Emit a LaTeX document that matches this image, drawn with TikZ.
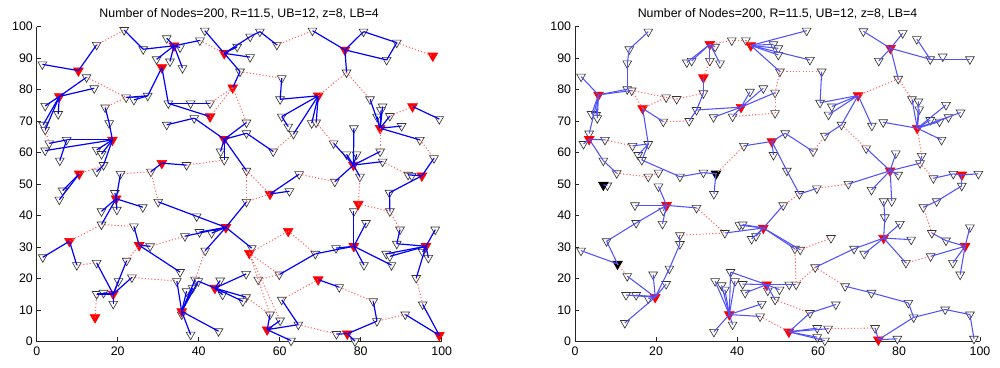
\documentclass[tikz,border=0pt]{standalone}
\usepackage{fontspec}
\setmainfont{Liberation Sans}
\usetikzlibrary{shapes.geometric}
\definecolor{linkblue}{RGB}{80,80,255}

\begin{document}
\begin{tikzpicture}[
  x=0.025cm,y=0.025cm,
  font=\fontsize{8.8pt}{10pt}\selectfont,
  mem/.style={regular polygon,regular polygon sides=3,shape border rotate=180,draw=black!80,fill=white,
    line width=0.45pt,minimum size=7.2pt,inner sep=0pt},
  head/.style={mem,fill=red,draw=red,minimum size=8pt},
  blkhead/.style={mem,fill=black,draw=black,minimum size=8pt},
  bline/.style={blue,line width=0.85pt},
  bthin/.style={linkblue,line width=0.75pt},
  rdot/.style={red!60,line width=0.75pt,dash pattern=on 0.8pt off 1.5pt},
  axis/.style={black!85,line width=0.45pt},
  ticklab/.style={inner sep=0pt},
  plottitle/.style={inner sep=0pt}
]
\useasboundingbox (0,0) rectangle (1000,368);

\begin{scope}[shift={(36.7,26.7)},xscale=4.05,yscale=3.147]
  \draw[axis] (0,100) -- (0,0) -- (100,0);
  \foreach \t in {0,10,...,100} {
    \draw[axis] (0,\t) -- (1,\t);
    \node[ticklab,anchor=east] (lyt\t) at (-0.9,\t) {\t};
  }
  \foreach \t in {0,20,...,100} {
    \draw[axis] (\t,0) -- (\t,1.3);
    \node[ticklab,anchor=north] (lxt\t) at (\t,-1.7) {\t};
  }
  \node[plottitle] (ltitle) at (50,104) {Number of Nodes=200, R=11.5, UB=12, z=8, LB=4};

  \foreach \n/\x/\y in {a1/1.4/88.0,a2/14.8/94.2,a3/21.6/98.9,a4/26.3/92.8,a5/32.1/96.3,a6/35.4/93.4,
    a7/29.6/89.6,a8/32.9/88.9,a9/36.0/86.8,a10/40.3/95.6,a11/41.5/98.7,a12/49.5/93.6,a13/50.2/85.7,
    a14/52.7/90.3,a15/52.7/96.8,a16/55.1/98.4,a17/59.3/94.2,a18/68.1/98.7,a19/80.7/98.4,a20/88.9/94.9,
    a21/86.4/89.4,a22/76.5/85.4,a23/12.3/83.9,a24/14.2/80.4,a25/2.1/74.8,a26/5.3/72.2,a27/1.6/68.8,
    a28/2.1/67.2,a29/3.1/62.9,a30/22.1/77.5,a31/24.0/76.7,a32/27.4/78.0,a33/16.9/74.3,a34/17.9/69.3,
    a35/7.4/64.0,a36/2.1/60.6,a37/5.7/57.4,a38/14.8/60.8,a39/16.0/59.5,a40/16.5/56.0,a41/14.8/53.9,
    a42/32.5/75.6,a43/38.0/75.6,a44/42.8/75.6,a45/38.9/70.9,a46/32.1/68.8,a47/51.8/69.5,a48/51.8/66.1,
    a49/45.4/60.3,a50/46.3/57.6,a51/51.8/54.2,a52/37.0/56.0,a53/28.2/53.9,a54/20.7/53.2,a56/60.5/83.6,
    a57/60.1/76.9,a58/60.5/71.4,a59/62.1/68.2,a60/67.9/69.3,a61/69.0/69.5,a62/63.4/65.9,a63/82.3/76.9,
    a64/85.4/74.6,a65/85.0/73.4,a66/87.2/71.6,a67/90.1/68.4,a68/94.6/64.0,a69/84.0/71.4,a70/99.4/70.6,
    a71/98.1/58.2,a72/84.8/60.3,a73/73.3/62.9,a74/78.3/67.7,a75/76.5/59.4,a76/79.0/59.4,a78/85.4/57.1,
    a79/79.8/52.3,a80/73.6/50.7,a81/91.7/52.9,a82/92.6/52.6,a83/64.8/53.1,a84/58.4/60.3,
    a88/19.3/47.1,a89/16.0/41.3,a90/19.8/41.8,a91/26.2/42.6,a92/16.0/37.1,a93/6.4/47.9,a94/5.6/45.0,
    a95/30.0/44.3,a96/39.5/39.7,a97/51.8/44.3,a98/36.6/33.4,a99/40.2/34.7,a100/43.2/34.4,a101/41.6/28.8,
    a102/1.5/26.7,a103/9.9/24.2,a104/24.0/36.5,a105/28.0/30.2,a106/35.4/22.0,a107/22.2/25.6,
    a108/14.8/24.9,a109/20.2/19.1,a110/23.5/20.3,a111/14.8/15.0,a112/16.5/15.4,a113/18.9/11.9,
    a114/34.6/19.1,a115/37.0/15.9,a116/38.5/16.9,a117/39.1/19.6,a118/39.9/19.1,a119/35.8/8.5,
    a120/38.0/2.1,a121/44.9/3.2,a122/45.3/19.3,a123/45.9/14.8,a124/51.7/21.4,a125/51.7/14.0,
    a126/50.9/12.7,a127/62.4/47.7,a130/78.3/41.3,a131/87.1/47.2,a132/87.2/41.3,a133/81.3/37.6,
    a134/89.7/35.5,a135/73.9/29.6,a136/68.8/27.8,a137/80.8/24.2,a138/87.6/24.2,a139/59.9/21.2,
    a140/54.7/19.6,a141/53.1/29.6,a142/88.9/31.0,a143/86.3/27.8,a144/87.2/27.0,a145/95.3/28.4,
    a146/96.7/26.5,a147/98.4/35.5,a148/93.7/20.1,a149/95.3/11.7,a150/91.0/8.5,a151/84.0/6.4,
    a152/83.1/12.7,a153/74.7/17.2,a154/60.5/13.2,a155/64.6/5.3,a156/57.6/8.5,a157/60.1/6.6,
    a158/62.8/0.2,a159/74.0/2.3,a160/78.6/0.0}
    \node[mem] (\n) at (\x,\y) {};

  \foreach \n/\x/\y in {lh1/10.3/86.0,lh2/5.6/77.8,lh3/33.9/93.9,lh4/30.9/87.0,lh5/46.3/91.5,lh6/48.4/80.6,
    lh7/42.8/71.4,lh8/18.7/64.0,lh9/10.5/53.2,lh10/30.9/56.6,lh11/46.3/64.2,lh12/76.1/92.6,lh13/97.8/90.7,
    lh14/69.5/78.0,lh15/92.8/74.6,lh16/84.8/67.7,lh17/78.2/56.0,lh18/95.1/52.6,lh19/19.6/45.3,lh20/8.1/31.8,
    lh21/25.3/30.5,lh22/46.7/36.2,lh23/18.9/15.0,lh24/14.4/7.6,lh25/35.8/9.5,lh26/44.0/16.9,lh27/52.5/28.0,
    lh28/57.6/46.8,lh29/79.4/43.6,lh30/62.1/35.0,lh31/78.3/30.2,lh32/96.1/30.2,lh33/69.5/19.6,
    lh34/56.9/3.7,lh35/76.7/2.4,lh36/99.4/1.9}
    \node[head] (\n) at (\x,\y) {};

  \foreach \u/\v in {lh1/a1,lh1/a2,a3/a4,a4/lh3,lh3/a5,lh3/a6,lh3/a7,lh3/a8,lh3/a9,lh3/a10,
    lh5/a11,lh5/a12,lh5/a13,a13/lh6,lh5/a14,lh5/a15,a15/a16,a16/a17,
    lh12/a18,lh12/a19,a19/a20,lh12/a21,a21/a20,lh12/a22,
    lh2/a23,lh2/a24,lh2/a25,lh2/a26,lh2/a27,lh2/a28,
    a30/a32,a31/a32,a32/lh4,lh4/a42,a33/a34,a34/lh8,
    lh8/a35,lh8/a36,a35/a37,a35/a29,lh8/a38,lh8/a39,lh8/a40,a40/a41,
    a42/a44,a42/lh7,a46/a45,a45/lh11,lh11/a47,lh11/a48,lh11/a49,lh11/a50,lh11/a51,
    lh10/a52,lh10/a53,lh9/a93,lh9/a94,
    a56/a57,a57/lh14,lh14/a58,lh14/a62,lh14/a60,lh14/a61,a58/a59,
    lh16/a63,lh16/a64,lh16/a65,lh16/a66,lh16/a67,lh16/a68,lh16/a69,
    lh15/a70,a71/lh18,lh18/a81,lh18/a82,lh18/a131,a131/a132,
    lh17/a73,lh17/a74,lh17/a75,lh17/a76,lh17/a72,lh17/a78,lh17/a79,lh17/a80,
    a84/a48,lh28/a127,lh28/a83,
    lh19/a88,lh19/a89,lh19/a90,lh19/a91,lh19/a92,lh19/a54,
    a95/a96,a96/lh22,lh22/a97,lh22/a98,lh22/a99,lh22/a100,lh22/a101,lh22/a141,
    lh20/a102,lh20/a103,a104/lh21,lh21/a105,lh21/a106,a107/lh23,
    lh23/a108,lh23/a109,lh23/a110,lh23/a111,lh23/a112,lh23/a113,
    lh25/a114,lh25/a115,lh25/a116,lh25/a117,lh25/a118,lh25/a119,lh25/a120,lh25/a121,
    lh26/a122,lh26/a123,lh26/a124,lh26/a125,lh26/a126,lh26/a118,
    lh31/a130,lh31/a133,lh31/a135,lh31/a136,lh31/a137,lh31/a138,a136/a139,
    lh32/a142,lh32/a143,lh32/a144,lh32/a145,lh32/a146,lh32/a147,lh32/a148,a134/a142,
    a149/lh36,a150/lh36,a152/a151,a151/lh35,lh35/a159,lh35/a160,
    lh33/a153,a154/a155,a155/lh34,lh34/a156,lh34/a157,lh34/a158}
    \draw[bline] (\u.center) -- (\v.center);

  \foreach \u/\v in {a2/a3,a10/lh5,a17/a18,a20/lh13,a22/lh14,a22/a63,a28/a29,a23/a30,a33/a30,
    a44/lh6,lh7/lh6,lh6/a47,a13/a56,lh9/a40,a53/a54,a52/a50,lh15/a66,a68/a71,lh16/a72,
    a83/a80,a79/lh29,a84/a62,a61/a73,a53/a95,a78/a81,a51/lh28,
    lh20/a92,a103/a108,a92/a104,a107/lh21,a105/a98,a110/a114,a117/a101,lh24/a111,
    a97/lh28,a51/a97,lh29/a132,a132/a134,lh27/lh30,lh30/a136,a139/a140,lh27/a139,lh27/a156,lh27/a157,
    a148/a149,a150/a151,a152/a153,lh33/a154,a155/a159,a156/a125}
    \draw[rdot] (\u.center) -- (\v.center);
\end{scope}

\begin{scope}[shift={(575,26.7)},xscale=4.05,yscale=3.147]
  \draw[axis] (0,100) -- (0,0) -- (100,0);
  \foreach \t in {0,10,...,100} {
    \draw[axis] (0,\t) -- (1,\t);
    \node[ticklab,anchor=east] (ryt\t) at (-0.9,\t) {\t};
  }
  \foreach \t in {0,20,...,100} {
    \draw[axis] (\t,0) -- (\t,1.3);
    \node[ticklab,anchor=north] (rxt\t) at (\t,-1.7) {\t};
  }
  \node[plottitle] (rtitle) at (50,104) {Number of Nodes=200, R=11.5, UB=12, z=8, LB=4};

  \foreach \n/\x/\y in {b1/1.5/84.1,b2/12.9/80.1,b3/14.0/79.7,b4/12.9/88.3,b5/13.4/92.8,b6/18.1/98.4,
    b7/4.1/72.2,b8/5.2/71.9,b9/5.5/70.9,b10/3.5/66.0,b11/2.1/62.7,b12/7.4/64.0,b13/7.0/57.4,b14/10.3/53.4,
    b15/8.0/49.5,b16/14.2/62.1,b17/18.1/62.7,b18/15.6/59.2,b19/16.5/57.6,b20/21.8/69.8,b21/22.5/77.5,
    b22/25.1/77.0,b23/31.7/78.8,b24/30.0/73.5,b25/28.2/70.0,b26/34.2/71.2,b27/38.9/71.4,b28/49.4/72.5,
    b29/49.4/79.0,b30/50.6/85.7,b31/43.2/79.3,b32/46.5/80.4,b33/27.6/88.6,b34/28.8/89.1,b35/33.3/89.1,
    b36/35.8/88.3,b37/34.6/93.6,b38/38.7/95.6,b39/42.2/95.6,b40/49.0/94.4,b41/50.2/93.1,b42/50.2/91.0,
    b43/41.7/62.1,b44/49.0/59.2,b45/51.9/66.1,b46/52.3/54.2,b47/31.7/53.6,b48/25.9/52.3,b49/20.6/53.6,
    b50/18.1/52.3,b51/20.6/49.2,b52/57.2/98.7,b53/58.0/89.4,b54/60.9/85.7,b55/60.5/75.8,b56/63.4/74.6,
    b57/62.6/72.0,b58/65.8/68.8,b59/61.7/65.3,b60/58.8/60.3,b61/73.3/68.5,b62/71.2/98.5,b63/80.9/97.9,
    b64/75.0/89.1,b65/84.4/96.0,b66/87.7/89.6,b67/90.8/90.5,b68/97.5/89.6,b69/79.8/83.4,b70/83.2/76.9,
    b71/84.8/76.2,b72/85.0/73.7,b73/76.1/69.6,b74/91.6/75.1,b75/95.2/72.7,b76/92.2/71.2,b77/90.0/69.8,
    b78/87.7/70.3,b79/90.5/64.0,b80/85.6/58.9,b81/85.2/56.6,b82/88.5/51.8,b83/93.4/53.2,b84/99.6/53.2,
    b85/95.5/49.4,b86/71.9/61.3,b87/79.2/59.7,b88/79.8/52.9,b89/73.2/48.1,b90/67.5/50.0,b91/59.7/48.6,
    b93/14.8/43.2,b94/21.8/41.5,b95/21.6/37.3,b96/30.0/42.4,b97/15.1/37.6,b98/7.8/31.8,b99/1.5/28.8,
    b100/12.9/20.7,b101/12.6/14.7,b102/15.1/14.7,b103/18.1/13.6,b104/19.3/21.2,b105/22.5/18.2,
    b106/23.3/23.1,b107/25.9/30.9,b108/25.9/33.7,b109/12.3/5.8,b110/37.0/34.4,b111/40.6/36.9,
    b112/41.4/37.1,b113/43.6/32.5,b114/44.7/33.4,b115/51.4/43.2,b116/34.6/19.1,b117/36.2/17.8,
    b118/37.0/16.4,b119/38.4/22.0,b120/39.5/19.1,b121/41.4/18.2,b122/34.3/3.0,b123/38.9/5.3,
    b124/46.1/11.9,b125/45.7/7.9,b126/42.0/15.4,b127/47.6/16.1,b128/49.4/13.2,b129/50.5/16.4,
    b130/52.9/18.0,b131/55.4/46.8,b136/76.2/44.5,b137/78.2/44.5,b138/86.0/42.6,b139/89.3/44.5,
    b140/76.5/39.4,b141/80.2/37.3,b142/83.0/32.3,b143/81.7/24.9,b144/68.9/29.4,b145/71.4/27.8,
    b146/63.2/32.8,b147/54.3/29.4,b148/55.6/29.1,b149/59.3/23.5,b150/54.6/18.0,b154/66.7/17.5,
    b155/73.2/15.4,b156/82.3/12.2,b157/83.6/7.6,b158/91.4/10.1,b159/97.5/8.5,b160/98.5/0.8,
    b161/87.8/27.0,b162/88.1/34.4,b163/91.6/32.0,b164/93.3/24.9,b165/97.5/36.2,b166/95.1/21.2,
    b167/58.0/9.0,b168/64.4/11.7,b169/59.8/4.2,b170/62.5/4.0,b171/59.8/1.3,b172/61.7/0.2,
    b173/74.1/4.2,b174/79.6/0.8,b175/34.3/46.8}
    \node[mem] (\n) at (\x,\y) {};

  \foreach \n/\x/\y in {rh1/5.8/78.3,rh2/16.7/74.0,rh3/33.3/94.4,rh4/31.7/83.8,rh5/43.4/94.0,rh6/41.0/74.4,
    rh7/3.5/64.2,rh8/48.6/63.5,rh9/77.9/93.1,rh10/69.9/78.1,rh11/84.5/67.7,rh12/77.8/54.2,rh13/95.5/52.9,
    rh14/22.6/43.2,rh15/19.8/14.0,rh16/46.5/36.0,rh17/47.3/18.0,rh18/38.1/8.5,rh19/52.8/3.0,
    rh20/76.2/32.8,rh21/96.3/30.2,rh22/74.9/0.5}
    \node[head] (\n) at (\x,\y) {};
  \foreach \n/\x/\y in {rk1/7.0/49.7,rk2/34.8/53.2,rk3/10.5/24.6}
    \node[blkhead] (\n) at (\x,\y) {};

  \foreach \u/\v in {rh1/b1,rh1/b2,rh1/b3,b6/b5,b5/b4,b4/b2,rh1/b7,rh1/b8,rh1/b9,rh1/b10,
    rh7/b11,rh7/b12,rh7/b13,b13/b14,rk1/b15,
    rh2/b17,rh2/b20,b17/b16,b17/b18,b17/b19,b19/b48,b48/b47,b47/rk2,rk2/b175,
    b23/rh4,b23/b24,b24/rh6,b26/rh6,b25/b24,rh6/b27,rh6/b31,rh6/b32,rh6/b29,
    rh3/b33,rh3/b34,rh3/b35,rh3/b36,rh3/b37,
    rh5/b40,rh5/b41,rh5/b42,rh5/b30,rh5/b53,rh5/b52,
    rh8/b43,rh8/b44,rh8/b45,rh8/b46,b45/b60,b58/b59,b131/b46,
    rh10/b55,rh10/b56,rh10/b57,rh10/b58,rh10/b61,b54/b55,
    rh9/b62,rh9/b63,rh9/b64,rh9/b66,b66/b68,b65/b66,rh9/b69,
    rh11/b70,rh11/b71,rh11/b72,rh11/b73,rh11/b74,rh11/b75,rh11/b76,rh11/b77,rh11/b78,rh11/b79,
    rh13/b83,rh13/b84,rh13/b85,b82/b83,b139/b85,
    rh12/b86,rh12/b87,rh12/b88,rh12/b81,rh12/b89,rh12/b90,b80/b81,rh12/b137,
    rh14/b93,rh14/b94,rh14/b95,rh14/b96,rh14/b51,rh14/b97,b97/b98,b98/rk3,b99/rk3,
    rh15/b100,rh15/b101,rh15/b102,rh15/b103,rh15/b104,rh15/b105,rh15/b106,b106/b107,b107/b108,rh15/b109,
    rh16/b110,rh16/b111,rh16/b112,rh16/b113,rh16/b114,rh16/b115,rh16/b147,rh16/b148,
    rh18/b116,rh18/b117,rh18/b118,rh18/b119,rh18/b120,rh18/b122,rh18/b123,rh18/b124,rh18/b125,
    rh17/b119,rh17/b121,rh17/b126,rh17/b127,rh17/b128,rh17/b129,rh17/b130,rh17/b150,
    b168/b167,b167/rh19,rh19/b169,rh19/b170,rh19/b171,rh19/b172,
    rh20/b140,b140/b136,rh20/b141,rh20/b142,rh20/b143,rh20/b144,rh20/b145,b144/b149,
    b131/b91,b138/b139,
    rh21/b161,rh21/b163,b162/b163,rh21/b164,rh21/b165,rh21/b166,
    b154/b155,b155/b156,b156/b157,b157/b158,b158/b159,b159/b160,b157/rh22,rh22/b173,rh22/b174}
    \draw[bthin] (\u.center) -- (\v.center);

  \foreach \u/\v in {b3/rh2,b3/b21,rh2/b21,b21/b22,b22/b23,b12/b16,b20/b25,b27/b28,b28/b29,b29/b30,b30/b54,
    b35/rh4,rh3/b38,b38/b39,b39/rh5,b43/rk2,b14/b50,b50/b49,
    rh10/b69,b69/b70,b60/b59,b58/b86,rh11/b80,b81/b82,b90/b91,
    b96/b110,b108/b110,rk3/b100,b115/b131,
    b148/b146,b149/b150,b147/b150,b149/b154,b143/b161,b138/b162,b125/rh19,b128/b167,b170/b173}
    \draw[rdot] (\u.center) -- (\v.center);
\end{scope}
\end{tikzpicture}
\end{document}
